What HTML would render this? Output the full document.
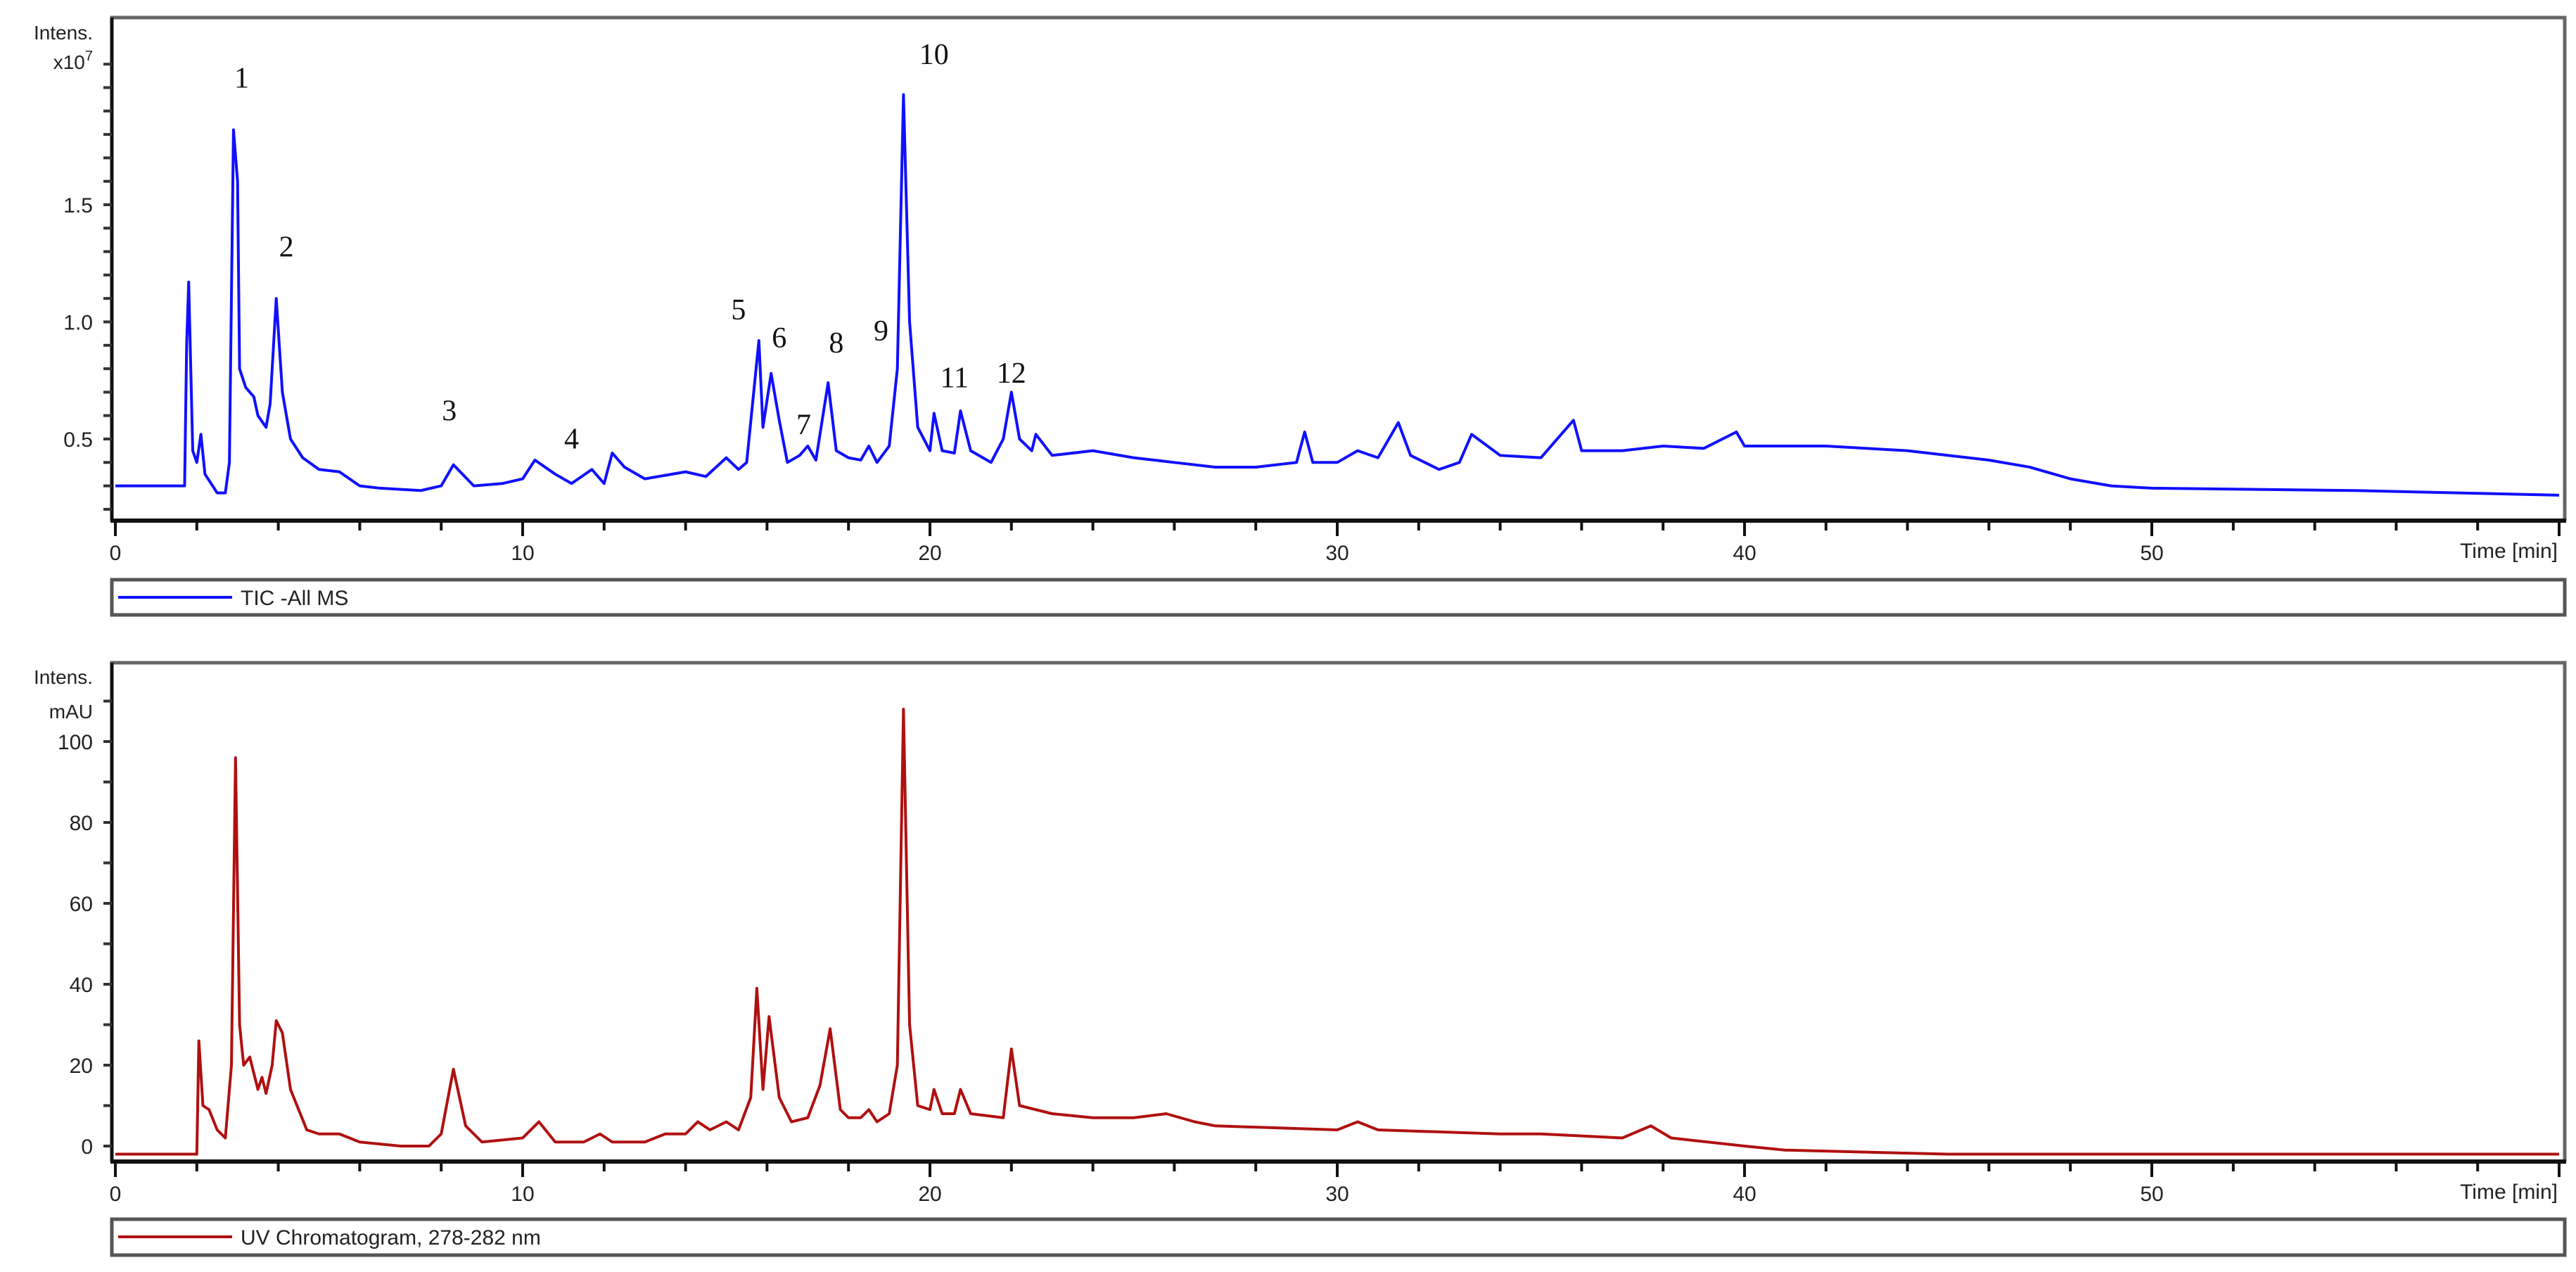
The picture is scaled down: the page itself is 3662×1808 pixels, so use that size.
<!DOCTYPE html>
<html><head><meta charset="utf-8"><style>
html,body{margin:0;padding:0;background:#fff;}
svg{display:block;font-family:"Liberation Sans",sans-serif;}
</style></head><body>
<svg id="c" width="3662" height="1808" viewBox="0 0 3662 1808"></svg>
<script>
const ticTimes=[0,1.7,1.75,1.8,1.9,2.0,2.1,2.2,2.5,2.7,2.8,2.9,3.0,3.05,3.2,3.4,3.5,3.7,3.8,3.95,4.1,4.3,4.6,5.0,5.5,6.0,6.5,7.5,8.0,8.3,8.8,9.5,10.0,10.3,10.8,11.2,11.7,12.0,12.2,12.5,13.0,14.0,14.5,15.0,15.3,15.5,15.8,15.9,16.1,16.3,16.5,16.8,17.0,17.2,17.5,17.7,18.0,18.3,18.5,18.7,19.0,19.2,19.35,19.5,19.7,20.0,20.1,20.3,20.6,20.75,21.0,21.5,21.8,22.0,22.2,22.5,22.6,23.0,24,25,26,27,28,29,29.2,29.4,30,30.5,31,31.5,31.8,32.5,33,33.3,34,35,35.8,36,37,38,39,39.8,40,42,44,46,47,48,49,50,55,60];
const ticValues=[0.30,0.30,0.9,1.17,0.45,0.40,0.52,0.35,0.27,0.27,0.40,1.82,1.6,0.8,0.72,0.68,0.60,0.55,0.65,1.10,0.70,0.50,0.42,0.37,0.36,0.30,0.29,0.28,0.30,0.39,0.30,0.31,0.33,0.41,0.35,0.31,0.37,0.31,0.44,0.38,0.33,0.36,0.34,0.42,0.37,0.40,0.92,0.55,0.78,0.58,0.40,0.43,0.47,0.41,0.74,0.45,0.42,0.41,0.47,0.40,0.47,0.80,1.97,1.00,0.55,0.45,0.61,0.45,0.44,0.62,0.45,0.40,0.50,0.70,0.50,0.45,0.52,0.43,0.45,0.42,0.40,0.38,0.38,0.40,0.53,0.40,0.40,0.45,0.42,0.57,0.43,0.37,0.40,0.52,0.43,0.42,0.58,0.45,0.45,0.47,0.46,0.53,0.47,0.47,0.45,0.41,0.38,0.33,0.30,0.29,0.28,0.26];
const uvTimes=[0,2.0,2.05,2.15,2.3,2.5,2.7,2.85,2.95,3.05,3.15,3.3,3.5,3.6,3.7,3.85,3.95,4.1,4.3,4.5,4.7,5.0,5.5,6.0,6.5,7.0,7.7,8.0,8.3,8.6,9.0,10.0,10.4,10.8,11.5,11.9,12.2,13.0,13.5,14.0,14.3,14.6,15.0,15.3,15.6,15.75,15.9,16.05,16.3,16.6,17.0,17.3,17.55,17.8,18.0,18.3,18.5,18.7,19.0,19.2,19.35,19.5,19.7,20.0,20.1,20.3,20.6,20.75,21.0,21.8,22.0,22.2,23,24,25,25.8,26.5,27,30,30.5,31,34,35,37,37.7,38.2,40,41,45,60];
const uvValues=[-2,-2,26,10,9,4,2,20,96,30,20,22,14,17,13,20,31,28,14,9,4,3,3,1,0.5,0,0,3,19,5,1,2,6,1,1,3,1,1,3,3,6,4,6,4,12,39,14,32,12,6,7,15,29,9,7,7,9,6,8,20,108,30,10,9,14,8,8,14,8,7,24,10,8,7,7,8,6,5,4,6,4,3,3,2,5,2,0,-1,-2,-2];
const timeTicks=[0,10,20,30,40,50];
const ticTickLabels=["0.5","1.0","1.5"];
const ticTickVals=[0.5,1.0,1.5];
const uvTickVals=[0,20,40,60,80,100];
const peakNums=["1","2","3","4","5","6","7","8","9","10","11","12"];
const peakTimes=[3.1,4.2,8.2,11.2,15.3,16.3,16.9,17.7,18.8,20.1,20.6,22.0];
const peakLabelVals=[2.00,1.28,0.58,0.46,1.01,0.89,0.52,0.87,0.92,2.10,0.72,0.74];

const NS="http://www.w3.org/2000/svg",svg=document.getElementById('c');
function mk(tag,at,parent){const e=document.createElementNS(NS,tag);for(const k in at)e.setAttribute(k,at[k]);(parent||svg).appendChild(e);return e;}
const X0=164,PXM=57.9;
const xS=t=>X0+t*PXM;
const yTic=v=>624-(v-0.5)*333;
const yUv=v=>1629-v*5.75;

function panel(top,bottom,legTop,legBot,name){
  const g=mk('g',{});
  
  
  mk('polyline',{points:`159,${bottom} 159,${top} 3646,${top} 3646,${bottom}`,fill:'none',stroke:'#666',"stroke-width":5},g);
  const ax=mk('line',{x1:157,y1:bottom,x2:3648,y2:bottom,stroke:'#111',"stroke-width":6},g);
  
  
  mk('line',{x1:159,y1:top,x2:159,y2:bottom,stroke:'#111',"stroke-width":5},g);
  for(let t=0;t<=60;t+=2){mk('line',{x1:xS(t),y1:bottom,x2:xS(t),y2:bottom+(t%10===0?22:14),stroke:'#111',"stroke-width":4},g);}
  timeTicks.forEach(t=>{const tx=mk('text',{x:xS(t),y:bottom+56,"font-size":30,"text-anchor":"middle",fill:'#222'},g);tx.textContent=t;
    
    });
  const tl=mk('text',{x:3636,y:bottom+53,"font-size":30,"text-anchor":"end",fill:'#222'},g);tl.textContent='Time [min]';
  
  
  const lb=mk('rect',{x:159,y:legTop,width:3487,height:legBot-legTop,fill:'#fff',stroke:'#555',"stroke-width":5},g);
  
  
  return g;
}
// TIC panel
const g1=panel(25,740,824,874,'tic-panel');
for(let v=0.2;v<=2.11;v+=0.1){mk('line',{x1:147,y1:yTic(v),x2:159,y2:yTic(v),stroke:'#333',"stroke-width":4},g1);}
ticTickVals.forEach((v,i)=>{const t=mk('text',{x:132,y:yTic(v)+11,"font-size":30,"text-anchor":"end",fill:'#222'},g1);t.textContent=ticTickLabels[i];
  
  });
let t1=mk('text',{x:132,y:56,"font-size":28,"text-anchor":"end",fill:'#222'},g1);t1.textContent='Intens.';


t1=mk('text',{x:132,y:98,"font-size":28,"text-anchor":"end",fill:'#222'},g1);t1.innerHTML='x10<tspan dy="-12" font-size="20">7</tspan>';


const p1=mk('polyline',{points:ticTimes.map((t,i)=>xS(t)+','+yTic(ticValues[i])).join(' '),fill:'none',stroke:'#1010ff',"stroke-width":4,"stroke-linejoin":"round"},g1);


peakNums.forEach((n,i)=>{const t=mk('text',{x:xS(peakTimes[i]),y:yTic(peakLabelVals[i]),"font-size":42,"text-anchor":"middle",fill:'#111',"font-family":'"Liberation Serif",serif'},g1);t.textContent=n;
  
  });
mk('line',{x1:168,y1:849,x2:330,y2:849,stroke:'#1010ff',"stroke-width":4},g1);
t1=mk('text',{x:342,y:860,"font-size":30,fill:'#222'},g1);t1.textContent='TIC -All MS';


// UV panel
const g2=panel(942,1651,1733,1784,'uv-panel');
for(let v=0;v<=110;v+=10){mk('line',{x1:147,y1:yUv(v),x2:159,y2:yUv(v),stroke:'#333',"stroke-width":4},g2);}
uvTickVals.forEach(v=>{const t=mk('text',{x:132,y:yUv(v)+11,"font-size":30,"text-anchor":"end",fill:'#222'},g2);t.textContent=v;
  
  });
t1=mk('text',{x:132,y:972,"font-size":28,"text-anchor":"end",fill:'#222'},g2);t1.textContent='Intens.';


t1=mk('text',{x:132,y:1021,"font-size":28,"text-anchor":"end",fill:'#222'},g2);t1.textContent='mAU';


const p2=mk('polyline',{points:uvTimes.map((t,i)=>xS(t)+','+yUv(uvValues[i])).join(' '),fill:'none',stroke:'#b01010',"stroke-width":4,"stroke-linejoin":"round"},g2);


mk('line',{x1:168,y1:1758,x2:330,y2:1758,stroke:'#b01010',"stroke-width":4},g2);
t1=mk('text',{x:342,y:1769,"font-size":30,fill:'#222'},g2);t1.textContent='UV Chromatogram, 278-282 nm';


</script>
</body></html>
